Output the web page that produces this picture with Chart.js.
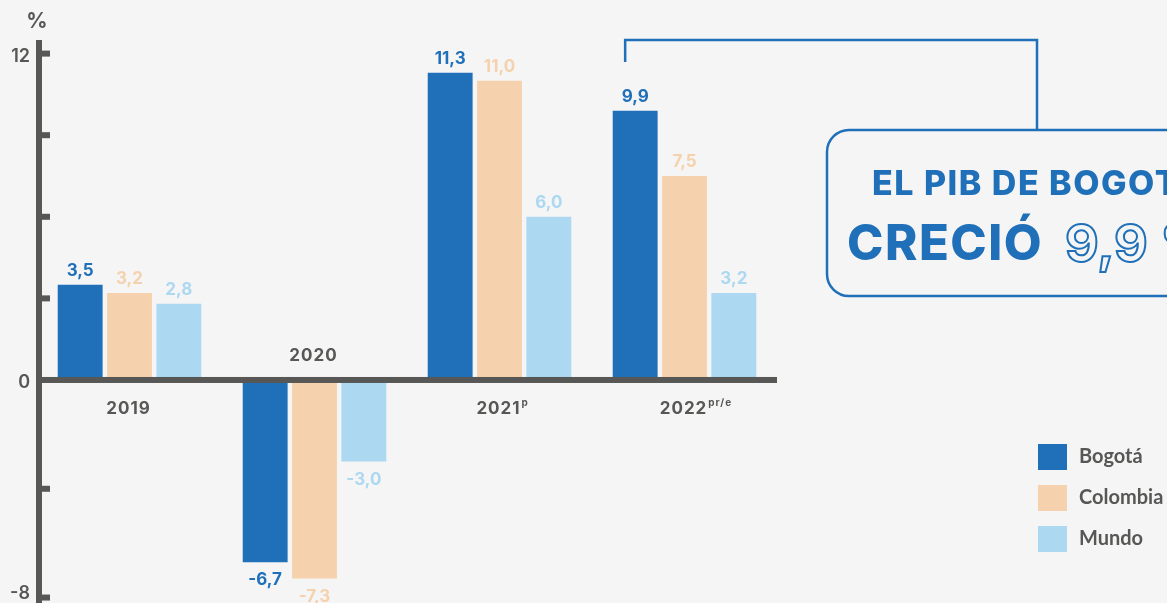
<!DOCTYPE html>
<html>
<head>
<meta charset="utf-8">
<script src="https://cdn.jsdelivr.net/npm/chart.js@4.4.1/dist/chart.umd.min.js"></script>
<style>
  html, body { margin: 0; padding: 0; background: #f5f5f5; overflow: hidden; }
  #wrap { position: relative; width: 1167px; height: 603px; }
</style>
</head>
<body>
<div id="wrap"><canvas id="chart" width="1167" height="603"></canvas></div>
<script>
// ── Data ───────────────────────────────────────────────────
const years      = ["2019", "2020", "2021", "2022"];
const yearMarks  = ["", "", "p", "pr/e"];
const seriesNames = ["Bogotá", "Colombia", "Mundo"];
const bogota     = [3.5, -6.7, 11.3, 9.9];
const colombia   = [3.2, -7.3, 11.0, 7.5];
const mundo      = [2.8, -3.0, 6.0, 3.2];
const yTicks     = [12, 9, 6, 3, -4, -8];
const yTickLabels = [12, 0, -8];
const calloutLines = ["EL PIB DE BOGOTÁ", "CRECIÓ", "9,9 %"];

// ── Styles ─────────────────────────────────────────────────
const GREY = "#575756";
const COLORS = ["#1f70b8", "#f5d2ad", "#add8f2"];
const FONT = "Inter, Lato, sans-serif";
const LEGEND_FONT = "Lato, sans-serif";

function fmt(v) {
  return v.toFixed(1).replace(".", ",");
}

// ── Axes, labels, callout, legend ──────────────────────────
const decor = {
  id: "decor",
  afterDatasetsDraw(chart) {
    const { ctx, chartArea, scales: { x, y } } = chart;
    const y0 = y.getPixelForValue(0);
    const ax = x.left - 1;
    ctx.save();

    // axis lines
    ctx.fillStyle = GREY;
    ctx.fillRect(ax, chartArea.top, 6, chartArea.bottom - chartArea.top);
    ctx.fillRect(ax, y0 - 3, x.right - ax, 6);
    yTicks.forEach((v) => {
      const py = y.getPixelForValue(v);
      ctx.fillRect(ax + 6, py - 3, 8, 6);
    });

    // y tick labels
    ctx.font = `600 18px ${FONT}`;
    ctx.textAlign = "right";
    ctx.textBaseline = "middle";
    yTickLabels.forEach((v) => {
      const py = Math.min(y.getPixelForValue(v) + 3, chartArea.bottom - 9);
      ctx.fillText(String(v), ax - 6, py);
    });
    ctx.textAlign = "center";
    ctx.font = `700 21px ${FONT}`;
    ctx.fillText("%", ax + 1, 22);

    // value labels
    ctx.font = `700 17px ${FONT}`;
    chart.data.datasets.forEach((ds, di) => {
      const meta = chart.getDatasetMeta(di);
      ctx.fillStyle = COLORS[di];
      meta.data.forEach((el, i) => {
        const v = ds.data[i];
        const ty = v >= 0 ? el.y - 14 : el.y + 18;
        ctx.fillText(fmt(v), el.x, ty);
      });
    });

    // category labels
    ctx.fillStyle = GREY;
    ctx.letterSpacing = "1px";
    years.forEach((yr, i) => {
      const cx = x.getPixelForValue(i);
      const ty = bogota[i] < 0 ? y0 - 24 : y0 + 29;
      ctx.font = `700 17px ${FONT}`;
      ctx.textAlign = "center";
      ctx.fillText(yr, cx - 1, ty);
      if (yearMarks[i]) {
        const w = ctx.measureText(yr).width;
        ctx.font = `700 10px ${FONT}`;
        ctx.textAlign = "left";
        ctx.fillText(yearMarks[i], cx + w / 2, ty - 6);
      }
    });
    ctx.restore();
  },
  afterDraw(chart) {
    const { ctx } = chart;
    const blue = COLORS[0];
    const anchor = chart.getDatasetMeta(0).data[3];
    ctx.save();

    // callout connector + box
    ctx.strokeStyle = blue;
    ctx.lineWidth = 2.5;
    ctx.beginPath();
    ctx.moveTo(anchor.x - 10, 62);
    ctx.lineTo(anchor.x - 10, 40);
    ctx.lineTo(1037, 40);
    ctx.lineTo(1037, 130);
    ctx.stroke();
    ctx.beginPath();
    ctx.roundRect(827, 130, 420, 166, 22);
    ctx.stroke();

    ctx.fillStyle = blue;
    ctx.textAlign = "left";
    ctx.textBaseline = "alphabetic";
    ctx.letterSpacing = "1.5px";
    ctx.font = `800 34px ${FONT}`;
    ctx.fillText(calloutLines[0], 872, 195);
    ctx.font = `800 49px ${FONT}`;
    ctx.fillText(calloutLines[1], 847, 260);
    ctx.letterSpacing = "0px";
    ctx.font = `700 52px ${FONT}`;
    ctx.lineWidth = 2;
    ctx.strokeText(calloutLines[2], 1065, 262);

    // legend
    ctx.font = `bold 20px ${LEGEND_FONT}`;
    ctx.textBaseline = "middle";
    seriesNames.forEach((name, i) => {
      const top = 444 + i * 41;
      ctx.fillStyle = COLORS[i];
      ctx.fillRect(1038, top, 29, 26);
      ctx.fillStyle = GREY;
      ctx.fillText(name, 1079, top + 13);
    });
    ctx.restore();
  },
};

// ── Chart ──────────────────────────────────────────────────
new Chart(document.getElementById("chart"), {
  type: "bar",
  data: {
    labels: years,
    datasets: [bogota, colombia, mundo].map((data, i) => ({
      label: seriesNames[i],
      data,
      backgroundColor: COLORS[i],
      borderWidth: 0,
      categoryPercentage: 0.8,
      barPercentage: 0.91,
    })),
  },
  options: {
    responsive: false,
    animation: false,
    devicePixelRatio: 1,
    layout: { padding: { left: 37, right: 390, top: 40, bottom: 0 } },
    plugins: { legend: { display: false }, tooltip: { enabled: false } },
    scales: {
      x: { display: false },
      y: { display: false, min: -8.2, max: 12.5 },
    },
  },
  plugins: [decor],
});
</script>
</body>
</html>
